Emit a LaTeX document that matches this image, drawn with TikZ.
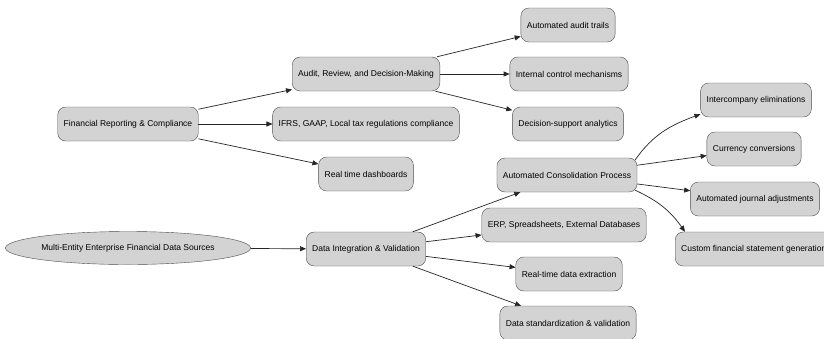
\documentclass[tikz,border=0pt]{standalone}
\usepackage{fontspec}
\setmainfont{Liberation Sans}
\usetikzlibrary{shapes.geometric,arrows.meta}

\definecolor{boxgray}{RGB}{211,211,211}
\tikzset{
  box/.style={draw=black!70, fill=boxgray, rounded corners=8pt, minimum height=34pt,
    inner xsep=6pt, font=\fontsize{8.5}{10}\selectfont},
  src/.style={ellipse, draw=black!70, fill=boxgray, minimum width=237pt, minimum height=33pt,
    inner sep=0pt, font=\fontsize{8.5}{10}\selectfont},
  link/.style={-{Triangle[length=6pt,width=5pt]}, black!85, line width=0.7pt},
}

\begin{document}
\begin{tikzpicture}[x=1pt,y=1pt]
    \fill[white] (0,0) rectangle (824,-338);
    \useasboundingbox (0,0) rectangle (824,-338);

    % Reporting branch
    \node[box] (frc) at (128,-124) {Financial Reporting \& Compliance};
    \node[box] (audit) at (366,-74) {Audit, Review, and Decision-Making};
    \node[box] (ifrs) at (366,-124) {IFRS, GAAP, Local tax regulations compliance};
    \node[box] (dash) at (366,-174) {Real time dashboards};
    \node[box] (trails) at (568,-25) {Automated audit trails};
    \node[box] (control) at (569,-74) {Internal control mechanisms};
    \node[box] (support) at (568,-124) {Decision-support analytics};

    % Data branch
    \node[src] (sources) at (128,-248) {Multi-Entity Enterprise Financial Data Sources};
    \node[box] (integ) at (366,-249) {Data Integration \& Validation};
    \node[box] (consol) at (567,-175) {Automated Consolidation Process};
    \node[box] (erp) at (564,-225) {ERP, Spreadsheets, External Databases};
    \node[box] (extract) at (569,-274) {Real-time data extraction};
    \node[box] (standard) at (568,-323) {Data standardization \& validation};

    % Consolidation outputs
    \node[box] (interco) at (756,-100) {Intercompany eliminations};
    \node[box] (currency) at (754,-149) {Currency conversions};
    \node[box] (journal) at (755,-199) {Automated journal adjustments};
    \node[box, anchor=west] (custom) at (675,-249) {Custom financial statement generation};

    % Links
    \foreach \a/\b in {frc/audit, frc/ifrs, frc/dash, audit/trails, audit/control, audit/support,
        sources/integ, integ/consol, integ/erp, integ/extract, integ/standard,
        consol/currency, consol/journal}
        \draw[link] (\a) -- (\b);
    \draw[link] ([xshift=-2pt,yshift=-2pt]consol.north east) to[out=55,in=200] ([yshift=3pt]interco.south west);
    \draw[link] ([xshift=-2pt,yshift=2pt]consol.south east) to[out=-25,in=125] ([xshift=10pt]custom.north west);
\end{tikzpicture}
\end{document}
